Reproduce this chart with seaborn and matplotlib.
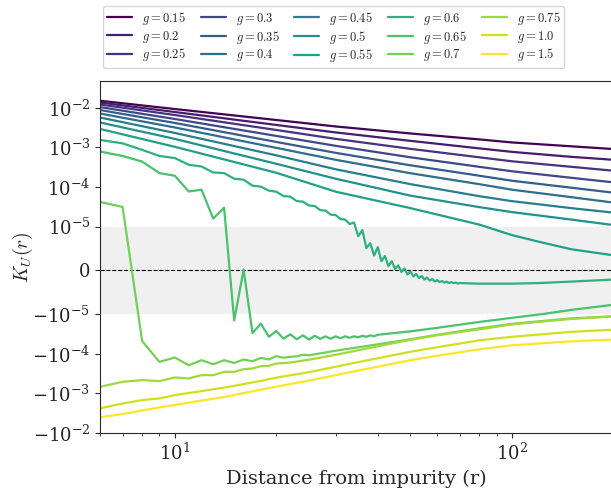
import numpy as np
import pandas as pd
import matplotlib
matplotlib.use("Agg")
import matplotlib.pyplot as plt
import seaborn as sns
from matplotlib.ticker import FixedLocator, NullLocator

# coupling values shown in the legend
g_values = ["0.15", "0.2", "0.25", "0.3", "0.35", "0.4", "0.45", "0.5",
            "0.55", "0.6", "0.65", "0.7", "0.75", "1.0", "1.5"]

# distances r
r_smooth = [6, 10, 20, 30, 50, 80, 100, 150, 200]
r_055 = [6, 10, 20, 30, 50, 80, 100, 120, 150, 200]
r_060 = [6, 7, 8, 9, 10, 11, 12, 13, 14, 15, 16, 17, 18, 19, 20, 21, 22, 23, 24, 25,
         26, 27, 28, 29, 30, 31, 32, 33, 34, 35, 36, 37, 38, 39, 40, 41, 42, 43, 44, 45,
         46, 47, 48, 49, 50, 51, 52, 53, 54, 55, 56, 57, 58, 59, 60, 61, 62, 63, 64, 65,
         66, 67, 68, 69, 70, 80, 100, 120, 150, 200]
r_065 = [6, 7, 8, 9, 10, 11, 12, 13, 14, 15, 16, 17, 18, 19, 20, 21, 22, 23, 24, 25,
         26, 27, 28, 29, 30, 31, 32, 33, 34, 35, 36, 37, 38, 39, 40,
         50, 60, 80, 100, 124, 150, 200]
r_070 = [6, 7, 8, 9, 10, 11, 12, 13, 14, 15, 16, 17, 18, 19, 20, 21, 22, 23, 24, 25,
         30, 40, 50, 60, 80, 100, 150, 200]
r_075 = [6, 7, 8, 9, 10, 11, 12, 13, 14, 15, 16, 17, 18, 19, 20,
         22, 25, 30, 40, 50, 60, 80, 100, 150, 200]
r_large = [6, 7, 8, 9, 10, 12, 14, 16, 18, 20, 25, 30, 40, 50, 60, 80, 100, 150, 200]

# K_U(r) for each g
k_015 = [1.52e-2, 9.38e-3, 4.95e-3, 3.40e-3, 2.26e-3, 1.60e-3, 1.34e-3, 1.07e-3, 9.12e-4]
k_020 = [1.37e-2, 7.89e-3, 3.71e-3, 2.40e-3, 1.47e-3, 9.48e-4, 7.74e-4, 5.79e-4, 4.88e-4]
k_025 = [1.22e-2, 6.62e-3, 2.77e-3, 1.65e-3, 9.23e-4, 5.64e-4, 4.47e-4, 3.24e-4, 2.58e-4]
k_030 = [1.05e-2, 5.25e-3, 1.96e-3, 1.10e-3, 5.64e-4, 3.24e-4, 2.50e-4, 1.71e-4, 1.31e-4]
k_035 = [8.85e-3, 4.17e-3, 1.38e-3, 7.31e-4, 3.54e-4, 1.93e-4, 1.44e-4, 9.60e-5, 7.18e-5]
k_040 = [7.23e-3, 3.21e-3, 9.77e-4, 4.88e-4, 2.23e-4, 1.18e-4, 8.55e-5, 5.53e-5, 4.03e-5]
k_045 = [5.73e-3, 2.33e-3, 6.32e-4, 2.81e-4, 1.18e-4, 5.86e-5, 4.39e-5, 2.92e-5, 2.25e-5]
k_050 = [4.29e-3, 1.65e-3, 3.86e-4, 1.62e-4, 6.04e-5, 3.10e-5, 2.32e-5, 1.50e-5, 1.09e-5]
k_055 = [2.94e-3, 1.04e-3, 2.29e-4, 7.62e-5, 2.92e-5, 1.12e-5, 8.05e-6, 6.55e-6, 4.83e-6, 3.45e-6]
k_060 = [1.55e-3, 1.27e-3, 8.7e-4, 6.1e-4, 5.4e-4, 3.65e-4, 3.3e-4, 2.33e-4, 2.25e-4, 1.62e-4,
         1.53e-4, 1.08e-4, 1.02e-4, 8.1e-5, 7.6e-5, 5.9e-5, 5.7e-5, 4.4e-5, 4.26e-5, 3.4e-5,
         3.3e-5, 2.6e-5, 2.53e-5, 2.0e-5, 1.95e-5, 1.55e-5, 1.5e-5, 1.16e-5, 1.26e-5, 7.8e-6,
         9.2e-6, 5.1e-6, 6.2e-6, 3.4e-6, 5.3e-6, 2.1e-6, 3.3e-6, 1.0e-6, 2.1e-6, 3.5e-7,
         1.15e-6, -3.4e-7, 4.6e-7, -9.2e-7, -2.3e-7, -1.38e-6, -8.0e-7, -1.72e-6, -1.26e-6, -2.07e-6,
         -1.6e-6, -2.3e-6, -1.95e-6, -2.5e-6, -2.2e-6, -2.64e-6, -2.41e-6, -2.76e-6, -2.53e-6, -2.87e-6,
         -2.64e-6, -2.87e-6, -2.76e-6, -2.95e-6, -2.87e-6, -3.0e-6, -3.0e-6, -2.87e-6, -2.53e-6, -2.07e-6]
k_065 = [7.9e-4, 6.1e-4, 4.4e-4, 2.25e-4, 1.93e-4, 7.7e-5, 8.55e-5, 1.59e-5, 3.0e-5, -1.42e-5,
         2e-7, -2.96e-5, -1.71e-5, -3.69e-5, -2.63e-5, -4.1e-5, -3.19e-5, -4.26e-5, -3.38e-5, -4.34e-5,
         -3.48e-5, -4.14e-5, -3.58e-5, -4.14e-5, -3.58e-5, -4.02e-5, -3.58e-5, -3.91e-5, -3.58e-5, -3.8e-5,
         -3.48e-5, -3.69e-5, -3.38e-5, -3.58e-5, -3.28e-5,
         -2.68e-5, -2.19e-5, -1.55e-5, -1.22e-5, -9.9e-6, -8.97e-6, -7.8e-6]
k_070 = [4.19e-5, 3.13e-5, -4.71e-5, -1.59e-4, -1.23e-4, -1.93e-4, -1.44e-4, -1.82e-4, -1.44e-4, -1.69e-4,
         -1.38e-4, -1.53e-4, -1.26e-4, -1.38e-4, -1.14e-4, -1.25e-4, -1.18e-4, -1.15e-4, -1.05e-4, -1.08e-4,
         -8.30e-5, -5.70e-5, -4.26e-5, -3.28e-5, -2.25e-5, -1.73e-5, -1.26e-5, -1.12e-5]
k_075 = [-6.78e-4, -5.07e-4, -4.59e-4, -4.88e-4, -3.93e-4, -4.17e-4, -3.44e-4, -3.44e-4, -2.84e-4, -2.84e-4,
         -2.43e-4, -2.33e-4, -2.04e-4, -2.00e-4, -1.75e-4,
         -1.65e-4, -1.40e-4, -1.05e-4, -6.40e-5, -4.39e-5, -3.38e-5, -2.39e-5, -1.79e-5, -1.30e-5, -1.12e-5]
k_100 = [-2.37e-3, -1.79e-3, -1.47e-3, -1.33e-3, -1.10e-3, -8.71e-4, -7.10e-4, -5.79e-4, -4.79e-4, -3.98e-4,
         -2.89e-4, -2.10e-4, -1.28e-4, -8.81e-5, -6.78e-5, -4.52e-5, -3.69e-5, -2.76e-5, -2.43e-5]
k_150 = [-4.00e-3, -3.30e-3, -2.70e-3, -2.24e-3, -1.96e-3, -1.51e-3, -1.23e-3, -9.77e-4, -7.98e-4, -6.70e-4,
         -4.73e-4, -3.44e-4, -2.10e-4, -1.44e-4, -1.11e-4, -7.62e-5, -6.04e-5, -4.79e-5, -4.34e-5]

curves = [
    (r_smooth, k_015), (r_smooth, k_020), (r_smooth, k_025), (r_smooth, k_030),
    (r_smooth, k_035), (r_smooth, k_040), (r_smooth, k_045), (r_smooth, k_050),
    (r_055, k_055), (r_060, k_060), (r_065, k_065), (r_070, k_070),
    (r_075, k_075), (r_large, k_100), (r_large, k_150),
]

frames = []
for g, (r, k) in zip(g_values, curves):
    frames.append(pd.DataFrame({"r": r, "K": k, "g": f"$g={g}$"}))
df = pd.concat(frames, ignore_index=True)

labels = [f"$g={g}$" for g in g_values]
colors = [plt.cm.viridis(v) for v in np.linspace(0, 1, len(g_values))]

sns.set_style("ticks")
plt.rcParams["font.family"] = ["DejaVu Serif"]
plt.rcParams["mathtext.fontset"] = "cm"

fig = plt.figure(figsize=(6.11, 4.9), dpi=100)
ax = fig.add_axes([0.1637, 0.1163, 0.8403, 0.7184])

ax.axhspan(-1e-5, 1e-5, color="#f0f0f0", lw=0, zorder=0)
ax.axhline(0, color="black", ls="--", lw=0.8, zorder=1)

sns.lineplot(data=df, x="r", y="K", hue="g", hue_order=labels, palette=colors,
             estimator=None, lw=1.6, ax=ax)

ax.set_xscale("log")
ax.set_yscale("symlog", linthresh=1e-5, linscale=1)
ax.set_xlim(6, 200)
ax.set_ylim(-1e-2, 0.048)
ax.yaxis.set_major_locator(FixedLocator([-1e-2, -1e-3, -1e-4, -1e-5, 0, 1e-5, 1e-4, 1e-3, 1e-2]))
ax.yaxis.set_minor_locator(NullLocator())

ax.set_xlabel("Distance from impurity (r)", fontsize=14)
ax.set_ylabel(r"$K_U(r)$", fontsize=14, labelpad=-2)
ax.tick_params(axis="both", which="major", labelsize=13)

leg = ax.get_legend()
handles = leg.legend_handles
texts = [t.get_text() for t in leg.texts]
leg.remove()
fig.legend(handles, texts, loc="upper left", bbox_to_anchor=(0.169, 0.988),
           ncol=5, fontsize=9, borderaxespad=0, columnspacing=1.2,
           labelspacing=0.15, borderpad=0.3)

fig.savefig("out.png", dpi=100)
